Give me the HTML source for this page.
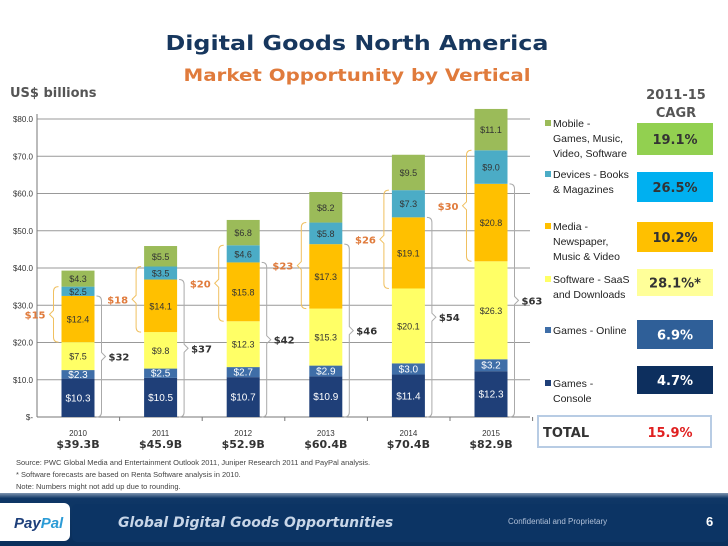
<!DOCTYPE html>
<html><head><meta charset="utf-8"><style>
body{margin:0;width:728px;height:546px;overflow:hidden;background:#fff;font-family:"Liberation Sans",sans-serif}
svg{display:block}
</style></head><body>
<svg id="chart" width="728" height="546" viewBox="0 0 728 546" xmlns="http://www.w3.org/2000/svg">
<text x="357" y="50" text-anchor="middle" font-family="DejaVu Sans,sans-serif" font-weight="bold" font-size="20" fill="#17375e" textLength="383" lengthAdjust="spacingAndGlyphs">Digital Goods North America</text>
<text x="357" y="81" text-anchor="middle" font-family="DejaVu Sans,sans-serif" font-weight="bold" font-size="17" fill="#e07b3c" textLength="347" lengthAdjust="spacingAndGlyphs">Market Opportunity by Vertical</text>
<text x="10" y="97" font-family="DejaVu Sans,sans-serif" font-weight="bold" font-size="13" fill="#555">US$ billions</text>
<text x="676" y="99" text-anchor="middle" font-family="DejaVu Sans,sans-serif" font-weight="bold" font-size="13" fill="#555">2011-15</text>
<text x="676" y="117" text-anchor="middle" font-family="DejaVu Sans,sans-serif" font-weight="bold" font-size="13" fill="#555">CAGR</text>
<g id="plot"></g>
<g id="legend"></g>
<rect x="538" y="416" width="173" height="31" fill="#fff" stroke="#b8cce4" stroke-width="2"/>
<text x="543" y="437" font-family="DejaVu Sans,sans-serif" font-weight="bold" font-size="13" fill="#333">TOTAL</text>
<text x="670" y="437" text-anchor="middle" font-family="DejaVu Sans,sans-serif" font-weight="bold" font-size="13" fill="#e02020">15.9%</text>
<text x="16" y="465" font-size="7.5" fill="#444">Source: PWC Global Media and Entertainment Outlook 2011, Juniper Research 2011 and PayPal analysis.</text>
<text x="16" y="477" font-size="7.5" fill="#444">* Software forecasts are based on Renta Software analysis in 2010.</text>
<text x="16" y="489" font-size="7.5" fill="#444">Note: Numbers might not add up due to rounding.</text>
<defs><linearGradient id="fb" x1="0" y1="0" x2="0" y2="1"><stop offset="0" stop-color="#7f95b0"/><stop offset="0.1" stop-color="#0f3766"/><stop offset="1" stop-color="#0a2f5c"/></linearGradient></defs>
<rect x="0" y="493" width="728" height="53" fill="url(#fb)"/>
<rect x="-8" y="503" width="78" height="38" rx="6" fill="#fff"/>
<text x="14" y="528" font-weight="bold" font-style="italic" font-size="15" fill="#1d3f7a">Pay<tspan fill="#2b9bd6">Pal</tspan></text>
<rect x="72" y="504" width="656" height="38" rx="5" fill="#0c3464"/>
<text x="118" y="527" font-family="DejaVu Sans,sans-serif" font-weight="bold" font-style="italic" font-size="14" fill="#c8d6e8">Global Digital Goods Opportunities</text>
<text x="508" y="524" font-size="8" fill="#b0c0d8">Confidential and Proprietary</text>
<text x="706" y="526" font-weight="bold" font-size="13" fill="#fff">6</text>
</svg>
<script>
const years = ["2010","2011","2012","2013","2014","2015"];
const totals = ["$39.3B","$45.9B","$52.9B","$60.4B","$70.4B","$82.9B"];
const consoleVals = [10.3,10.5,10.7,10.9,11.4,12.3];
const onlineVals = [2.3,2.5,2.7,2.9,3.0,3.2];
const softwareVals = [7.5,9.8,12.3,15.3,20.1,26.3];
const mediaVals = [12.4,14.1,15.8,17.3,19.1,20.8];
const devicesVals = [2.5,3.5,4.6,5.8,7.3,9.0];
const mobileVals = [4.3,5.5,6.8,8.2,9.5,11.1];
const yTicks = [0,10,20,30,40,50,60,70,80];
const grayBracket = ["$32","$37","$42","$46","$54","$63"];
const orangeBracket = ["$15","$18","$20","$23","$26","$30"];
const legendNames = [["Mobile -","Games, Music,","Video, Software"],["Devices - Books","& Magazines"],["Media -","Newspaper,","Music & Video"],["Software - SaaS","and Downloads"],["Games - Online"],["Games -","Console"]];
const cagrVals = ["19.1%","26.5%","10.2%","28.1%*","6.9%","4.7%"];

const NS="http://www.w3.org/2000/svg";
const plot=document.getElementById('plot'), leg=document.getElementById('legend');
const X0=37,X1=530,Y0=417,PX=3.725,STEP=82.6,BW=33;
const y=v=>Y0-v*PX, xc=i=>78+i*STEP;
function mk(p,tag,a){const e=document.createElementNS(NS,tag);for(const k in a)e.setAttribute(k,a[k]);p.appendChild(e);return e;}
yTicks.forEach(t=>{
  const g=mk(plot,'line',{x1:X0,x2:X1,y1:y(t),y2:y(t),stroke:t?'#999':'#777','stroke-width':1});
  
  
  const tx=mk(plot,'text',{x:33,y:y(t)+3,'text-anchor':'end','font-size':8,fill:'#333'});
  tx.textContent=t?('$'+t.toFixed(1)):'$-';
  
  
});
mk(plot,'line',{x1:X0,x2:X0,y1:y(80)-5,y2:Y0,stroke:'#777'});
const series=[[consoleVals,'#1f3f78','#fff'],[onlineVals,'#3f6ea8','#fff'],[softwareVals,'#ffff66','#333'],[mediaVals,'#ffc000','#333'],[devicesVals,'#4bacc6','#333'],[mobileVals,'#9bbb59','#333']];
const names=['console','online','software','media','devices','mobile'];
years.forEach((yr,i)=>{
  let acc=0;
  series.forEach((s,k)=>{
    const v=s[0][i];
    const r=mk(plot,'rect',{x:xc(i)-BW/2,y:y(acc+v),width:BW,height:v*PX,fill:s[1]});
    
    
    const t=mk(plot,'text',{x:xc(i),y:y(acc+v/2)+3.5,'text-anchor':'middle','font-size':k<2?10:9,fill:s[2]});
    t.textContent='$'+v.toFixed(1);
    
    
    acc+=v;
  });
  const c=consoleVals[i]+onlineVals[i]+softwareVals[i]+mediaVals[i];
  const m0=consoleVals[i]+onlineVals[i]+softwareVals[i], m1=m0+mediaVals[i]+devicesVals[i];
  const bx=xc(i)+BW/2+2, ytop=y(c), ybot=y(0), ym=(ytop+ybot)/2;
  const gb=mk(plot,'path',{d:`M${bx},${ytop} q5,0 5,5 V${ym-4} l4,4 l-4,4 V${ybot-5} q0,5 -5,5`,fill:'none',stroke:'#aaa','stroke-width':1});
  
  
  const gt=mk(plot,'text',{x:bx+12,y:ym+4,'font-size':10,'font-weight':'bold',fill:'#333','font-family':'DejaVu Sans,sans-serif'});
  gt.textContent=grayBracket[i];
  
  
  const ox=xc(i)-BW/2-3, ot=y(m1), ob=y(m0), om=(ot+ob)/2;
  const obk=mk(plot,'path',{d:`M${ox},${ot} q-5,0 -5,5 V${om-4} l-4,4 l4,4 V${ob-5} q0,5 5,5`,fill:'none',stroke:'#f0c060','stroke-width':1});
  
  
  const ot2=mk(plot,'text',{x:ox-13,y:om+4,'text-anchor':'end','font-size':10,'font-weight':'bold',fill:'#e07b3c','font-family':'DejaVu Sans,sans-serif'});
  ot2.textContent=orangeBracket[i];
  
  
  const yl=mk(plot,'text',{x:xc(i),y:436,'text-anchor':'middle','font-size':8,fill:'#333'});
  yl.textContent=yr;
  
  
  const tl=mk(plot,'text',{x:xc(i),y:448,'text-anchor':'middle','font-size':11,'font-weight':'bold',fill:'#333','font-family':'DejaVu Sans,sans-serif'});
  tl.textContent=totals[i];
  
  
  mk(plot,'line',{x1:X0+(i+1)*STEP,x2:X0+(i+1)*STEP,y1:Y0,y2:Y0+4,stroke:'#777'});
});
const legColors=['#9bbb59','#4bacc6','#ffc000','#ffff66','#3f6ea8','#1f3f78'];
const boxColors=['#92d050','#00b0f0','#ffc000','#ffff99','#2f5f98','#0d2f5e'];
const boxText=['#333','#333','#333','#333','#fff','#fff'];
const legY=[127,178,230,283,334,387], boxY=[123,172,222,269,320,366], boxH=[32,30,30,27,29,28];
legendNames.forEach((ln,k)=>{
  const sq=mk(leg,'rect',{x:545,y:legY[k]-7,width:6,height:6,fill:legColors[k]});
  
  
  ln.forEach((l,j)=>{
    const t=mk(leg,'text',{x:553,y:legY[k]+j*15,'font-size':10.5,fill:'#222'});
    t.textContent=l;
    
    
  });
  const b=mk(leg,'rect',{x:637,y:boxY[k],width:76,height:boxH[k],fill:boxColors[k]});
  
  
  const bt=mk(leg,'text',{x:675,y:boxY[k]+boxH[k]/2+5,'text-anchor':'middle','font-size':13,'font-weight':'bold',fill:boxText[k],'font-family':'DejaVu Sans,sans-serif'});
  bt.textContent=cagrVals[k];
  
  
});
</script>
</body></html>
